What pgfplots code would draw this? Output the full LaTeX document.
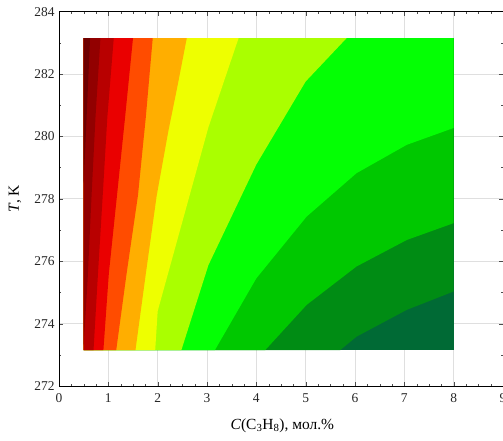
\documentclass[border=0pt]{standalone}
\usepackage{fontspec}
\setmainfont{Liberation Serif}
\usepackage{pgfplots}
\pgfplotsset{compat=1.18}
\definecolor{c1}{HTML}{6E0000}
\definecolor{c2}{HTML}{920000}
\definecolor{c3}{HTML}{B80000}
\definecolor{c4}{HTML}{EA0000}
\definecolor{c5}{HTML}{FF4C00}
\definecolor{c6}{HTML}{FFAE00}
\definecolor{c7}{HTML}{EEFF00}
\definecolor{c8}{HTML}{AAFF00}
\definecolor{c9}{HTML}{04FF04}
\definecolor{c10}{HTML}{00C800}
\definecolor{c11}{HTML}{008C14}
\definecolor{c12}{HTML}{006A35}
\begin{document}
\begin{tikzpicture}
\begin{axis}[
  scale only axis, width=444bp, height=374.4bp,
  xmin=0, xmax=9, ymin=272, ymax=284,
  xtick={0,1,...,9}, ytick={272,274,...,284},
  minor x tick num=3, minor y tick num=1,
  tick align=inside,
  major tick length=4bp, minor tick length=2.5bp,
  grid=major, major grid style={gray!25, line width=0.8pt},
  axis line style={black, line width=0.8pt},
  tick style={black!70},
  tick label style={font=\fontsize{13.5}{15}\selectfont, text=black!85},
  yticklabel style={xshift=-1bp},
  xticklabel style={yshift=-4bp},
  /pgf/number format/assume math mode=true,
  /pgf/number format/1000 sep={},
  xlabel={\textit{C}(C\textsubscript{3}H\textsubscript{8}), мол.\%},
  ylabel={\textit{T}, K},
  label style={font=\fontsize{15.5}{17}\selectfont},
  xlabel style={at={(axis description cs:0.503,-0.106)}, anchor=center},
  ylabel style={at={(axis description cs:-0.099,0.5)}, anchor=center},
]
% lowest band: full rectangle
\addplot[fill=c12, draw=none] coordinates {(0.5,273.15) (8,273.15) (8,283.15) (0.5,283.15)} -- cycle;
% B11
\addplot[fill=c11, draw=none] coordinates {(0.5,273.15) (5.70,273.15) (6.03,273.58) (7.05,274.44) (8,275.03) (8,283.15) (0.5,283.15)} -- cycle;
% B10
\addplot[fill=c10, draw=none] coordinates {(0.5,273.15) (4.18,273.15) (5.02,274.6) (6.03,275.83) (7.05,276.68) (8,277.22) (8,283.15) (0.5,283.15)} -- cycle;
% B9
\addplot[fill=c9, draw=none] coordinates {(0.5,273.15) (3.16,273.15) (4.0,275.45) (5.02,277.43) (6.03,278.82) (7.05,279.73) (8,280.27) (8,283.15) (0.5,283.15)} -- cycle;
% B8
\addplot[fill=c8, draw=none] coordinates {(0.5,273.15) (2.48,273.15) (3.03,275.88) (4.0,279.1) (5.0,281.76) (5.83,283.15) (0.5,283.15)} -- cycle;
% B7
\addplot[fill=c7, draw=none] coordinates {(0.5,273.15) (1.95,273.15) (2.0,274.4) (3.03,280.3) (3.64,283.15) (0.5,283.15)} -- cycle;
% B6
\addplot[fill=c6, draw=none] coordinates {(0.5,273.15) (1.55,273.15) (1.76,275.6) (1.98,278.1) (2.22,280.2) (2.40,281.6) (2.59,283.15) (0.5,283.15)} -- cycle;
% B5
\addplot[fill=c5, draw=none] coordinates {(0.5,273.15) (1.16,273.15) (1.37,275.6) (1.60,278.1) (1.76,280.62) (1.90,283.15) (0.5,283.15)} -- cycle;
% B4
\addplot[fill=c4, draw=none] coordinates {(0.5,273.15) (0.90,273.15) (1.01,275.6) (1.175,278.1) (1.34,280.62) (1.50,283.15) (0.5,283.15)} -- cycle;
% B3
\addplot[fill=c3, draw=none] coordinates {(0.5,273.15) (0.70,273.15) (0.79,275.6) (0.886,278.1) (0.98,280.62) (1.11,283.15) (0.5,283.15)} -- cycle;
% B2
\addplot[fill=c2, draw=none] coordinates {(0.5,273.3) (0.58,275.4) (0.66,278.1) (0.74,280.62) (0.84,283.15) (0.5,283.15)} -- cycle;
% B1
\addplot[fill=c1, draw=none] coordinates {(0.5,278.5) (0.56,280.62) (0.63,283.15) (0.5,283.15)} -- cycle;
\end{axis}
\pgfresetboundingbox
\useasboundingbox ([shift={(-59bp,-55bp)}]current axis.south west) rectangle ([shift={(0bp,11.6bp)}]current axis.north east);
\end{tikzpicture}
\end{document}
